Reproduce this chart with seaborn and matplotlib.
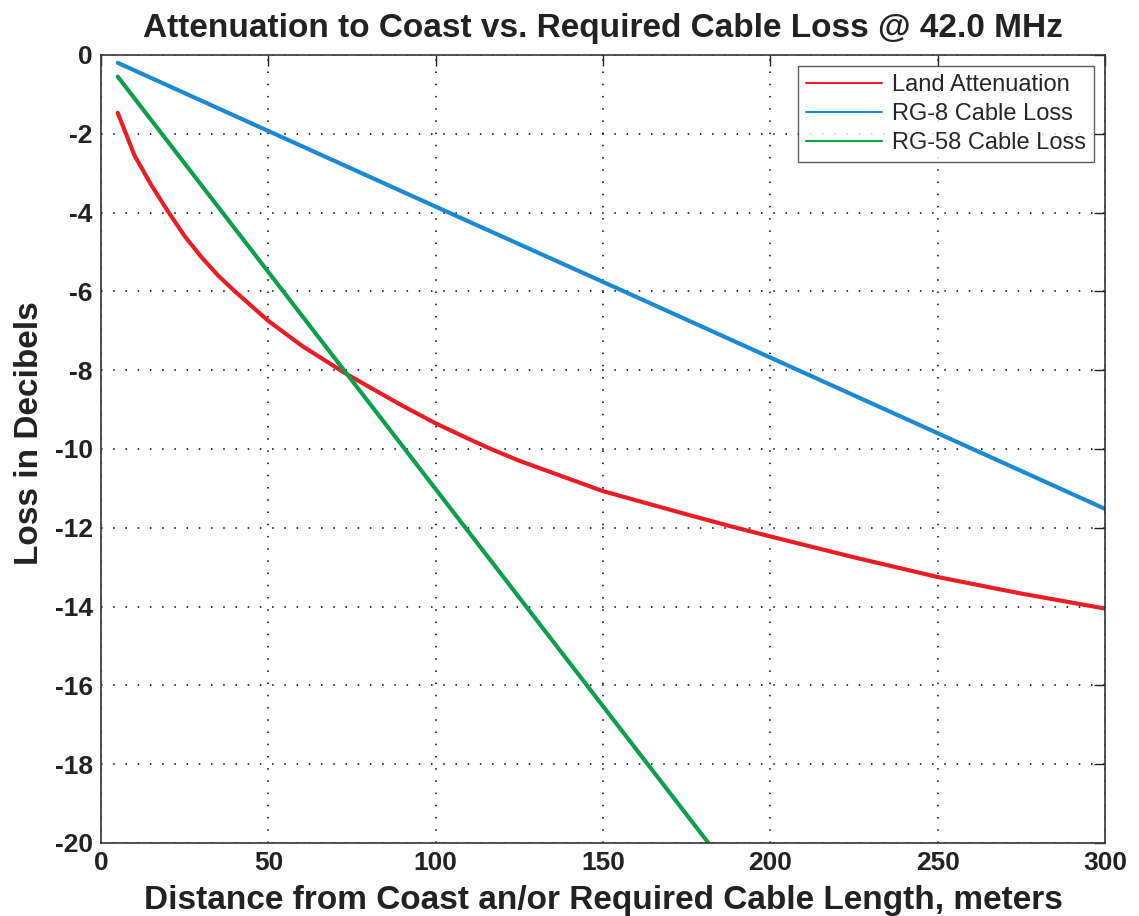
import matplotlib
matplotlib.use("Agg")
import matplotlib.pyplot as plt
import pandas as pd
import seaborn as sns

# values
land_x = [5, 10, 15, 20, 25, 30, 35, 40, 50, 60, 73, 80, 90, 100, 110, 116.5, 125, 150, 175, 188.5, 200, 225, 250, 275, 300]
land_db = [-1.47, -2.55, -3.30, -3.97, -4.60, -5.13, -5.60, -6.0, -6.75, -7.38, -8.08, -8.42, -8.90, -9.35,
           -9.75, -10.0, -10.30, -11.07, -11.66, -11.97, -12.22, -12.75, -13.25, -13.67, -14.05]

rg8_x = [5, 50, 100, 150, 200, 250, 300]
rg8_db = [-0.20, -1.93, -3.85, -5.76, -7.68, -9.60, -11.52]

rg58_x = [5, 50, 100, 150, 200, 250, 300]
rg58_db = [-0.55, -5.51, -11.02, -16.53, -22.04, -27.55, -33.06]

series_names = ['Land Attenuation', 'RG-8 Cable Loss', 'RG-58 Cable Loss']
series_colors = ['#EA1D27', '#1B89D3', '#0CA04B']

x_ticks = [0, 50, 100, 150, 200, 250, 300]
y_ticks = [-20, -18, -16, -14, -12, -10, -8, -6, -4, -2, 0]

# long-form frame for seaborn
df = pd.concat([
    pd.DataFrame({'distance': land_x, 'loss': land_db, 'series': series_names[0]}),
    pd.DataFrame({'distance': rg8_x, 'loss': rg8_db, 'series': series_names[1]}),
    pd.DataFrame({'distance': rg58_x, 'loss': rg58_db, 'series': series_names[2]}),
], ignore_index=True)

sns.set_style('white')
plt.rcParams['font.family'] = ['Liberation Sans', 'DejaVu Sans']

fig = plt.figure(figsize=(11.39, 9.16), dpi=100)
ax = fig.add_axes([0.0887, 0.0797, 0.8815, 0.8603])

sns.lineplot(data=df, x='distance', y='loss', hue='series', hue_order=series_names,
             palette=dict(zip(series_names, series_colors)), linewidth=3.0,
             sort=False, estimator=None, ax=ax)

ax.set_xlim(0, 300)
ax.set_ylim(-20, 0)
ax.set_xticks(x_ticks)
ax.set_yticks(y_ticks)
ax.set_xticklabels([str(t) for t in x_ticks], fontsize=19, fontweight='bold')
ax.set_yticklabels([str(t) for t in y_ticks], fontsize=19, fontweight='bold')

# matlab-like box, inward ticks on all sides, dotted grid
ax.tick_params(direction='in', length=8, width=1, top=True, right=True, pad=6, colors='#222222')
for s in ax.spines.values():
    s.set_color('#333333')
    s.set_linewidth(1.2)
ax.grid(True, color='black', linestyle=(0, (1, 7)), linewidth=1.1)

ax.set_title('Attenuation to Coast vs. Required Cable Loss @ 42.0 MHz',
             fontsize=24, fontweight='bold', pad=13, color='#222222')
ax.set_xlabel('Distance from Coast an/or Required Cable Length, meters',
              fontsize=24, fontweight='bold', color='#222222', labelpad=7)
ax.set_ylabel('Loss in Decibels', fontsize=24, fontweight='bold', color='#222222')
ax.yaxis.set_label_coords(-0.056, 0.52)

leg = ax.legend(loc='upper right', fontsize=17, frameon=True, fancybox=False,
                borderaxespad=0.45, handlelength=3.2, handletextpad=0.45,
                labelspacing=0.3, borderpad=0.35)
leg.get_frame().set_edgecolor('#333333')
leg.get_frame().set_linewidth(1.0)
for line in leg.get_lines():
    line.set_linewidth(1.5)

fig.savefig('out.png', dpi=100)
